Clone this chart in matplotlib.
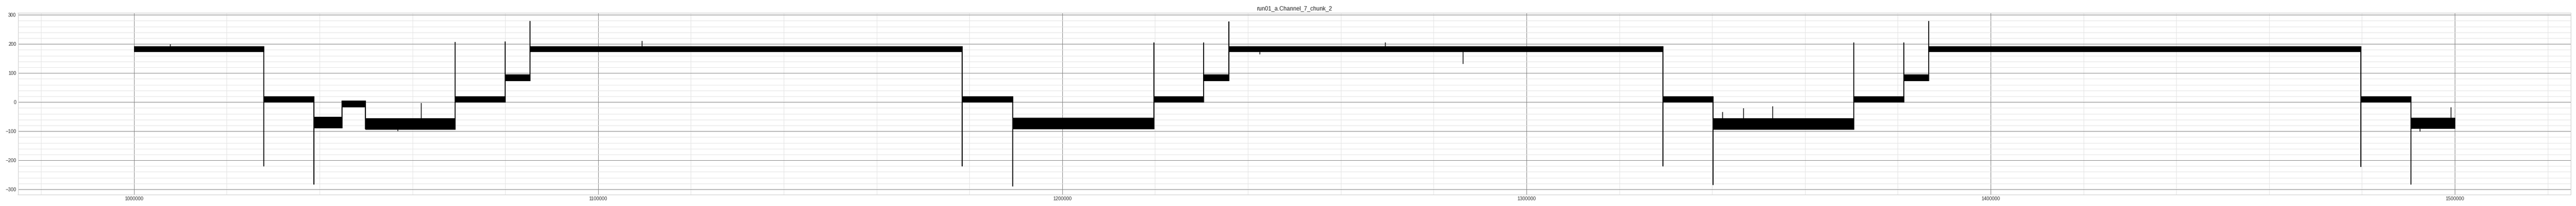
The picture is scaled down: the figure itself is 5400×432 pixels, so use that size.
import matplotlib
matplotlib.use("Agg")
import matplotlib.pyplot as plt
from matplotlib.ticker import MultipleLocator

plt.rcParams['font.family'] = ['Liberation Sans', 'DejaVu Sans']
plt.rcParams['font.size'] = 10

title = "run01_a.Channel_7_chunk_2"

# segment boundaries (sample index) and noise band of each segment
seg_bounds = [1000000, 1028000, 1038800, 1044800, 1049900, 1069200, 1080000,
              1085300, 1178400, 1189300, 1219700, 1230400, 1235900, 1329400,
              1340200, 1370500, 1381300, 1386600, 1479700, 1490500, 1500000]
seg_lo = [174, 1, -88, -16, -94, 1, 74, 174, 1, -92, 1, 74, 174, 1, -94, 1, 74, 174, 1, -90]
seg_hi = [192, 20, -50, 5, -56, 20, 95, 192, 20, -54, 20, 95, 192, 20, -56, 20, 95, 192, 20, -54]

# transient spike at each boundary (None = plain step)
trans_peak = [-222, -283, None, None, 207, 208, 279, -222, -290, 205, 206, 278,
              -222, -285, 205, 206, 279, -223, -284]

# isolated single-sample spikes
blip_x = [1007860, 1056890, 1061890, 1109500, 1242600, 1269630, 1286380,
          1342260, 1346810, 1353060, 1492520, 1499200]
blip_y = [199, -100, -3, 210, 164, 205, 132, -34, -21, -14, -102, -18]

x_ticks = [1000000, 1100000, 1200000, 1300000, 1400000, 1500000]
y_ticks = [-300, -200, -100, 0, 100, 200, 300]

fig = plt.figure(figsize=(75, 6), dpi=72)
ax = fig.add_axes([37.5 / 5400, 1 - 408.3 / 432, (5389.3 - 37.5) / 5400, (408.3 - 26.7) / 432])

line_kw = dict(color='black', linewidth=2, zorder=3)

# noise bands
for i in range(len(seg_lo)):
    ax.fill_between([seg_bounds[i], seg_bounds[i + 1]], seg_lo[i], seg_hi[i],
                    facecolor='black', edgecolor='black', linewidth=1.2, zorder=3)

# steps and transients
for i, pk in enumerate(trans_peak):
    xb = seg_bounds[i + 1]
    lo = min(seg_lo[i], seg_lo[i + 1])
    hi = max(seg_hi[i], seg_hi[i + 1])
    if pk is not None:
        lo = min(lo, pk)
        hi = max(hi, pk)
    ax.vlines(xb, lo, hi, **line_kw)

# isolated spikes
for bx, by in zip(blip_x, blip_y):
    for i in range(len(seg_lo)):
        if seg_bounds[i] <= bx < seg_bounds[i + 1]:
            mid = 0.5 * (seg_lo[i] + seg_hi[i])
            ax.vlines(bx, min(by, mid), max(by, mid), color='black', linewidth=1.5, zorder=3)
            break

ax.set_xlim(seg_bounds[0] - 0.05 * (seg_bounds[-1] - seg_bounds[0]),
            seg_bounds[-1] + 0.05 * (seg_bounds[-1] - seg_bounds[0]))
ymin_d = min(min(seg_lo), min(p for p in trans_peak if p is not None))
ymax_d = max(max(seg_hi), max(p for p in trans_peak if p is not None))
rng = ymax_d - ymin_d
ax.set_ylim(ymin_d - 0.05 * rng, ymax_d + 0.05 * rng)

ax.set_xticks(x_ticks)
ax.set_xticklabels([str(v) for v in x_ticks])
ax.set_yticks(y_ticks)
ax.set_yticklabels([str(v).replace('-', '\u2212') for v in y_ticks])
ax.xaxis.set_minor_locator(MultipleLocator(20000))
ax.yaxis.set_minor_locator(MultipleLocator(20))

ax.grid(which='major', color='#808080', linewidth=1, zorder=1)
ax.grid(which='minor', color='#e3e3e3', linewidth=1, zorder=0)
ax.set_axisbelow(True)
ax.tick_params(which='both', length=0, colors='#333333', labelsize=10, pad=3.5)
for s in ax.spines.values():
    s.set_color('#cccccc')
    s.set_linewidth(1)

ax.set_title(title, fontsize=12, color='#222222', pad=6)

fig.savefig('out.png', dpi=72, facecolor='white')
